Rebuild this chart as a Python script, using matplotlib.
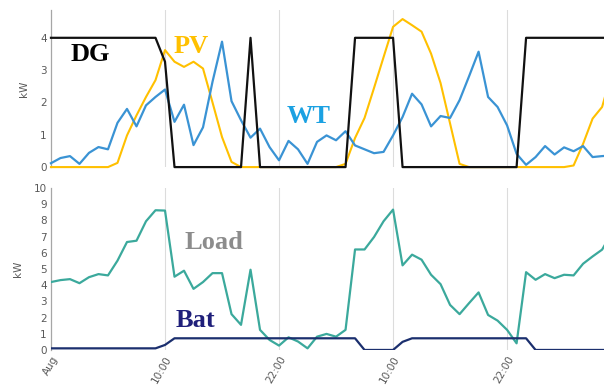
"""Hybrid microgrid: DG / PV / WT generation (top) and Load / Battery (bottom)."""

import matplotlib
matplotlib.use("Agg")
import numpy as np
import matplotlib.pyplot as plt

# ---------------------------------------------------------------------------
# Data (hourly, kW)
# ---------------------------------------------------------------------------
hours = np.arange(60)

wt = [0.12, 0.28, 0.34, 0.10, 0.44, 0.62, 0.55, 1.37, 1.80, 1.26,
      1.91, 2.17, 2.40, 1.40, 1.93, 0.68, 1.23, 2.64, 3.88, 2.04,
      1.45, 0.91, 1.19, 0.62, 0.21, 0.81, 0.55, 0.10, 0.78, 0.98,
      0.83, 1.11, 0.67, 0.55, 0.43, 0.47, 0.98, 1.55, 2.27, 1.94,
      1.26, 1.58, 1.52, 2.07, 2.81, 3.57, 2.17, 1.86, 1.29, 0.41,
      0.07, 0.31, 0.65, 0.39, 0.61, 0.49, 0.65, 0.31, 0.34, 0.36]

pv = [0, 0, 0, 0, 0, 0, 0, 0.13, 0.98, 1.60,
      2.17, 2.69, 3.62, 3.26, 3.10, 3.26, 3.05, 2.00, 0.93, 0.16,
      0, 0, 0, 0, 0, 0, 0, 0, 0, 0,
      0, 0.10, 0.90, 1.52, 2.45, 3.40, 4.34, 4.58, 4.39, 4.19,
      3.51, 2.60, 1.35, 0.10, 0, 0, 0, 0, 0, 0,
      0, 0, 0, 0, 0, 0.05, 0.72, 1.50, 1.86, 2.90]

dg = [4, 4, 4, 4, 4, 4, 4, 4, 4, 4,
      4, 4, 3.26, 0, 0, 0, 0, 0, 0, 0,
      0, 4, 0, 0, 0, 0, 0, 0, 0, 0,
      0, 0, 4, 4, 4, 4, 4, 0, 0, 0,
      0, 0, 0, 0, 0, 0, 0, 0, 0, 0,
      4, 4, 4, 4, 4, 4, 4, 4, 4, 4]

load = [4.19, 4.31, 4.37, 4.12, 4.49, 4.68, 4.60, 5.51, 6.66, 6.74,
        7.94, 8.62, 8.60, 4.52, 4.89, 3.77, 4.19, 4.74, 4.74, 2.21,
        1.55, 4.95, 1.24, 0.62, 0.27, 0.78, 0.52, 0.10, 0.82, 0.99,
        0.82, 1.24, 6.20, 6.20, 6.97, 7.94, 8.66, 5.22, 5.88, 5.57,
        4.64, 4.06, 2.78, 2.21, 2.89, 3.55, 2.16, 1.81, 1.24, 0.41,
        4.80, 4.33, 4.68, 4.43, 4.64, 4.60, 5.32, 5.77, 6.19, 7.20]

bat = [0.1, 0.1, 0.1, 0.1, 0.1, 0.1, 0.1, 0.1, 0.1, 0.1,
       0.1, 0.1, 0.31, 0.72, 0.72, 0.72, 0.72, 0.72, 0.72, 0.72,
       0.72, 0.72, 0.72, 0.72, 0.72, 0.72, 0.72, 0.72, 0.72, 0.72,
       0.72, 0.72, 0.72, 0, 0, 0, 0, 0.5, 0.72, 0.72,
       0.72, 0.72, 0.72, 0.72, 0.72, 0.72, 0.72, 0.72, 0.72, 0.72,
       0.72, 0, 0, 0, 0, 0, 0, 0, 0, 0]

tick_pos = [0, 12, 24, 36, 48]
tick_labels = ["Aug", "10:00", "22:00", "10:00", "22:00"]

# ---------------------------------------------------------------------------
# Figure
# ---------------------------------------------------------------------------
fig = plt.figure(figsize=(6.04, 3.85), dpi=100)
ax_top = fig.add_axes([0.0844, 0.566, 0.9156, 0.408])
ax_bot = fig.add_axes([0.0844, 0.091, 0.9156, 0.421])

GRAY = "#595959"
label_font = dict(family="Liberation Serif", fontweight="bold", fontsize=19)

for ax in (ax_top, ax_bot):
    ax.set_xlim(0, 58.2)
    for s in ("top", "right", "bottom"):
        ax.spines[s].set_visible(False)
    ax.spines["left"].set_color("#a6a6a6")
    ax.spines["left"].set_linewidth(0.9)
    for xg in tick_pos[1:]:
        ax.axvline(xg, color="#dcdcdc", lw=0.8, zorder=0)
    ax.tick_params(length=0, labelsize=7.5, labelcolor=GRAY, pad=3)
    ax.set_ylabel("kW", fontsize=7.5, color=GRAY, labelpad=8)
    ax.set_xticks(tick_pos)

# --- top panel -------------------------------------------------------------
ax_top.plot(hours, pv, color="#FFC000", lw=1.5, clip_on=False, zorder=3)
ax_top.plot(hours, wt, color="#3A93D4", lw=1.6, clip_on=False, zorder=4)
ax_top.plot(hours, dg, color="#111111", lw=1.6, clip_on=False, zorder=5)
ax_top.set_ylim(0, 4.86)
ax_top.set_yticks([0, 1, 2, 3, 4])
ax_top.set_xticklabels([])

ax_top.text(2.1, 3.49, "DG", color="black", ha="left", va="center", **label_font)
ax_top.text(12.85, 3.72, "PV", color="#FFC000", ha="left", va="center", **label_font)
ax_top.text(24.8, 1.57, "WT", color="#1BA1E2", ha="left", va="center", **label_font)

# --- bottom panel ----------------------------------------------------------
ax_bot.plot(hours, load, color="#3BA99C", lw=1.6, zorder=3)
ax_bot.plot(hours, bat, color="#1B2F6E", lw=1.6, zorder=4)
ax_bot.set_ylim(0, 10)
ax_bot.set_yticks(range(0, 11))
ax_bot.set_xticklabels(tick_labels, rotation=60, ha="right",
                       rotation_mode="anchor")

ax_bot.text(14.1, 6.62, "Load", color="#8C8C8C", ha="left", va="center", **label_font)
ax_bot.text(13.16, 1.79, "Bat", color="#1F1F7A", ha="left", va="center", **label_font)

fig.savefig("out.png", dpi=100, facecolor="white")
